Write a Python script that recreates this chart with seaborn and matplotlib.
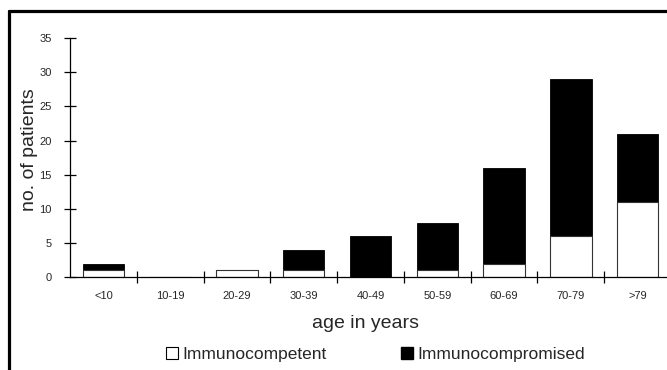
import matplotlib
matplotlib.use('Agg')
import matplotlib.pyplot as plt
import seaborn as sns
import pandas as pd
from matplotlib.lines import Line2D

# data
age_groups = ['<10', '10-19', '20-29', '30-39', '40-49', '50-59', '60-69', '70-79', '>79']
immunocompetent = [1, 0, 1, 1, 0, 1, 2, 6, 11]
immunocompromised = [1, 0, 0, 3, 6, 7, 14, 23, 10]
y_ticks = [0, 5, 10, 15, 20, 25, 30, 35]

df = pd.DataFrame({'age': age_groups,
                   'competent': immunocompetent,
                   'compromised': immunocompromised})
df['total'] = df['competent'] + df['compromised']

sns.set_style('white')
plt.rcParams['font.family'] = ['Liberation Sans', 'DejaVu Sans']

fig = plt.figure(figsize=(6.67, 3.70), dpi=100)
ax = fig.add_axes([70 / 667, 0.2505, 601 / 667, 0.647])

# stacked bars: full total in black, immunocompetent in white on top of it
sns.barplot(data=df, x='age', y='total', color='black', width=0.62,
            edgecolor='black', linewidth=0.6, saturation=1, ax=ax)
sns.barplot(data=df, x='age', y='competent', color='white', width=0.62,
            edgecolor='#333333', linewidth=0.8, saturation=1, ax=ax)

ax.set_xlim(-0.5, 8.5)
ax.set_ylim(0, 35)
ax.set_yticks(y_ticks)
ax.set_xticks(range(len(age_groups)))
ax.set_xticklabels(age_groups)
ax.set_xticks([i - 0.5 for i in range(1, len(age_groups) + 1)], minor=True)

for side in ['top', 'right']:
    ax.spines[side].set_visible(False)
for side in ['left', 'bottom']:
    ax.spines[side].set_color('black')
    ax.spines[side].set_linewidth(0.9)

ax.tick_params(axis='y', which='major', direction='inout', length=8, width=0.9,
               color='black', labelsize=8, pad=9, left=True)
ax.tick_params(axis='x', which='major', length=0, labelsize=8, pad=10)
ax.tick_params(axis='x', which='minor', direction='inout', length=8, width=0.9,
               color='black', bottom=True)
ax.set_xlabel('')
ax.set_ylabel('')

fig.text(365 / 667, 1 - 324 / 370, 'age in years', ha='center', va='center', fontsize=14)
fig.text(29 / 667, 1 - 150 / 370, 'no. of patients', ha='center', va='center',
         rotation=90, fontsize=14)

handles = [
    Line2D([], [], marker='s', linestyle='none', markersize=9,
           markerfacecolor='white', markeredgecolor='black', markeredgewidth=0.8),
    Line2D([], [], marker='s', linestyle='none', markersize=9,
           markerfacecolor='black', markeredgecolor='black'),
]
fig.legend(handles, ['Immunocompetent', 'Immunocompromised'], loc='center',
           bbox_to_anchor=(375 / 667, 1 - 354 / 370), ncol=2, frameon=False,
           fontsize=12.5, handlelength=0.8, handletextpad=0.2, columnspacing=4.2)

# outer frame of the original figure (top and left edges visible)
fig.add_artist(Line2D([8.5 / 667, 1.0], [1 - 11 / 370, 1 - 11 / 370],
                      transform=fig.transFigure, color='black', linewidth=2.3))
fig.add_artist(Line2D([8.5 / 667, 8.5 / 667], [0, 1 - 11 / 370],
                      transform=fig.transFigure, color='black', linewidth=2.3))

fig.savefig('out.png', dpi=100)
